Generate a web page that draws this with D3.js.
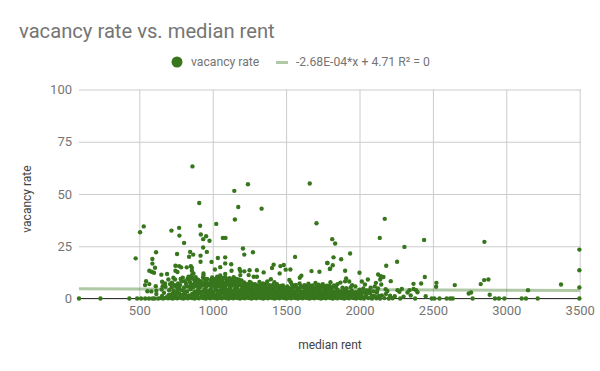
<!DOCTYPE html>
<html>
<head>
<meta charset="utf-8">
<script src="https://cdn.jsdelivr.net/npm/d3@7"></script>
<style>
body { margin: 0; background: #fff; }
text { font-family: Roboto, sans-serif; }
</style>
</head>
<body>
<script>
var width = 600;
var height = 371;

var chartTitle = 'vacancy rate vs. median rent';
var seriesName = 'vacancy rate';
var trendName = '-2.68E-04*x + 4.71 R\u00b2 = 0';
var xTitle = 'median rent';
var yTitle = 'vacancy rate';
var xTicks = [500, 1000, 1500, 2000, 2500, 3000, 3500];
var yTicks = [0, 25, 50, 75, 100];
var trendRents = [89, 3500];
var trendValues = [4.69, 3.77];

// [rent, vacancy], scattered points above the main mass
var highPoints = [
	[862,63.2],[908,45.7],[1147,51.5],[1240,54.7],[1661,55],[1174,43.8],[1333,43],[1151,37.8],[1024,35.7],[1707,36],
	[914,34.8],[530,34.5],[505,31.7],[719,32.5],[771,33.8],[773,30.1],[919,30.6],[955,29.8],[935,28.4],[978,27.6],
	[1069,29],[1087,29],[805,26.6],[935,24.4],[1206,23.9],[846,22.3],[960,22.3],[614,22.1],[1274,22.1],[757,21.3],
	[867,21],[839,20],[1215,21],[917,20.5],[1035,19.4],[1085,19.7],[475,19.2],[589,18.9],[1561,19.9],[917,17.6],
	[992,17.5],[1085,16.8],[1126,16.4],[589,16.7],[1415,16.2],[1782,17],[1484,16],[1461,15.5],[746,15.7],[771,15.5],
	[785,14.9],[851,15.5],[823,14.9],[858,14.7],[607,14.7],[1051,15],[1015,13.9],[1404,14.6],[1183,14.1],[1529,13.9],
	[1798,14.1],[568,13.3],[584,12.8],[600,12.3],[746,13.3],[760,12.7],[858,13.3],[869,12],[1128,13.3],[1188,13.1],
	[1215,13],[1251,13.5],[1301,13.5],[1347,12.5],[1497,13.8],[1673,13.1],[1727,12.8],[650,11.4],[689,11.7],[937,12],
	[937,11],[858,11.2],[1051,11],[1085,11.7],[1188,11.2],[1245,11.2],[1279,10.4],[1301,10.4],[1456,12],[1604,10.9],
	[1593,9.9],[2172,38.1],[2138,29],[2440,28],[2851,27.1],[1814,28.4],[1834,26.3],[3498,23.4],[2306,24.7],[1936,21.5],
	[1823,19.7],[1875,18.8],[2256,17.6],[1780,17],[1818,15.9],[2182,15.7],[1800,14.3],[1902,13.3],[3498,13.5],[2000,12.3],
	[2127,11.5],[2145,10.7],[2163,10.3],[2141,9.1],[1909,9.6],[2057,9.1],[2445,10.3],[2213,8.3],[2524,7.5],[2878,9.1],
	[2849,8.8],[2826,6.9],[3373,6.7],[2368,7],[2420,7.2],[2522,5.6],[2649,6.4],[3498,5.3],[3148,4],[2760,2.9],
	[2744,2.4],[2887,1.8],[2288,4.6],[2259,4],[2272,3.2],[2327,2.9],[2340,4],[2368,4.6],[2386,4],[2395,3],
	[2349,1.4],[2451,1.1]
];

// scattered points in the 500-2300 range, 4 to 11 percent
var midPoints = [
	[546,8.3],[568,6.9],[539,6.4],[612,5.9],[555,3.5],[582,3.4],[616,3.7],[616,2.1],[655,8],[675,7.2],
	[659,5.9],[678,5.6],[652,4.3],[668,2.7],[698,9.1],[732,9.9],[743,9.1],[709,6.9],[703,4],[737,6.4],
	[732,3.7],[760,4],[764,7.2],[796,10],[789,8.2],[778,6.4],[805,5.3],[835,10.4],[840,8.5],[869,9.6],
	[892,8],[942,9.5],[996,10.1],[1012,9.2],[1030,10.4],[1048,9.6],[1066,8.8],[1088,10],[1104,9.1],[1122,8.2],
	[1143,10.2],[1160,9.4],[1178,9.1],[1196,8.6],[1214,7.7],[1232,6.9],[1260,7.6],[1288,6.9],[1318,7.9],[1342,7.2],
	[1372,8.2],[1396,9.2],[1420,7.8],[1438,6.8],[1462,6],[1522,8.9],[1532,7.8],[1566,6.5],[1592,7.2],[1624,6.4],
	[1652,7.1],[1680,6.3],[1700,7.4],[1722,6.6],[1750,6.9],[1778,6.1],[1802,7.8],[1826,6.2],[1850,6.9],[1870,7.6],
	[1902,8.2],[1930,8.1],[1950,6.4],[1972,5.8],[2016,8.1],[2037,6.7],[2076,5.2],[2104,5.8],[2112,7.5],[2126,4.8],
	[2148,6.7],[2178,4.4],[2190,3.6],[1884,5.2],[1910,4.9],[1940,5.4],[2000,4.2],[2026,4.8],[2050,3.9],[720,5.4],
	[752,5.6],[818,7.1],[852,6.9],[878,7.4],[905,6.8],[926,7.7],[958,8],[978,7.2],[1000,8],[1026,7.9],
	[1050,7.8],[1080,7.4],[1112,6.9],[1140,7.4],[1166,7.3],[1190,6.6]
];

// the dense mass, from the base upward
var lowPoints = [
	[89,0],[235,0],[432,0],[485,0],[512,0],[540,0],[566,0],[590,0],[604,0],[628,0],[645,0.2],[662,0],[680,0.3],[696,0.1],
	[712,0.2],[728,0],[742,0.3],[758,0.1],[772,0.4],[786,0.2],[800,0],[816,0.3],[830,0.1],[846,0.4],[860,0.2],[876,0],
	[892,0.3],[906,0.1],[922,0.4],[938,0.2],[952,0],[968,0.3],[984,0.1],[1000,0.4],[1014,0.2],[1030,0],[1046,0.3],[1062,0.1],
	[1078,0.4],[1092,0.2],[1108,0],[1124,0.3],[1140,0.1],[1156,0.4],[1170,0.2],[1186,0],[1202,0.3],[1218,0.1],[1234,0.4],[1248,0.2],
	[1264,0],[1280,0.3],[1296,0.1],[1312,0.4],[1328,0.2],[1344,0],[1360,0.3],[1376,0.1],[1392,0.4],[1406,0.2],[1422,0],[1438,0.3],
	[1454,0.1],[1470,0.4],[1486,0.2],[1502,0],[1518,0.3],[1534,0.1],[1550,0.4],[1564,0.2],[1580,0],[1596,0.3],[1612,0.1],[1628,0.4],
	[1644,0.2],[1660,0],[1676,0.3],[1692,0.1],[1708,0.4],[1722,0.2],[1738,0],[1754,0.3],[1770,0.1],[1786,0.4],[1802,0.2],[1818,0],
	[1834,0.3],[1850,0.1],[1866,0.4],[1880,0.2],[1896,0],[1912,0.3],[1928,0.1],[1944,0.4],[1960,0.2],[1976,0],[1992,0.3],[2008,0.1],
	[2030,0],[2060,0.2],[2085,0],[2115,0.1],[2140,0],[2170,0.2],[2200,0],[2225,0.1],[2277,0],[2379,0],[2492,0],[2510,0],
	[2545,0],[2594,0],[2618,0],[2635,0],[2771,0],[2923,0],[2950,0],[2987,0],[3105,0],[3134,0],[3214,0],[3498,0],

	[702,1.8],[724,2.2],[748,1.6],[771,2.4],[795,1.7],[812,2.3],[838,1.5],[860,2.2],[884,1.9],[903,2.6],[925,1.6],[948,2.3],
	[966,1.8],[990,2.5],[1010,1.6],[1033,2.3],[1052,1.9],[1075,2.6],[1098,1.7],[1117,2.4],[1140,1.8],[1163,2.5],[1184,1.6],[1205,2.3],
	[1226,1.9],[1250,2.6],[1271,1.7],[1292,2.3],[1315,1.6],[1338,2.5],[1358,1.9],[1381,2.3],[1402,1.7],[1425,2.6],[1446,1.6],[1467,2.3],
	[1491,1.9],[1512,2.5],[1535,1.7],[1556,2.3],[1577,1.6],[1600,2.6],[1621,1.9],[1642,2.2],[1665,1.7],[1686,2.5],[1708,1.6],[1731,2.3],
	[1752,1.9],[1775,2.5],[1796,1.7],[1817,2.3],[1840,1.6],[1861,2.6],[1883,1.9],[1906,2.2],[1926,1.7],[1950,2.5],[1972,1.6],[1996,2.2],
	[2020,2.9],[2046,1.4],[2072,2.6],[2098,1.2],[2118,2.8],[2152,1.5],[2180,2.2],[2208,1.3],[2240,1.1],[2300,0.9],

	[760,3.1],[790,3.9],[826,3.4],[850,4.4],[876,3.2],[900,4.1],[918,3.3],[944,4.3],[962,3.5],[986,4.4],[1004,3.2],[1024,4.1],
	[1044,3.6],[1064,4.5],[1086,3.3],[1106,4.2],[1128,3.5],[1150,4.4],[1172,3.2],[1192,4.1],[1214,3.6],[1234,4.5],[1256,3.3],[1278,4.1],
	[1300,3.4],[1322,4.3],[1344,3.2],[1366,4.2],[1388,3.5],[1410,4.4],[1432,3.3],[1454,4.1],[1476,3.4],[1498,4.2],[1520,3.2],[1542,4],
	[1564,3.4],[1586,4.3],[1608,3.2],[1630,4.1],[1652,3.5],[1674,4.2],[1696,3.3],[1718,4.4],[1740,3.2],[1762,4],[1784,3.6],[1806,4.3],
	[1828,3.2],[1850,4.1],[1872,3.4],[1896,3.9],[1922,3.2],[1948,3.7],[1974,3],[2008,3.4],[2034,2.9],[2068,3.8],[2094,3.4],[2120,3.6],

	[840,5.6],[866,5.4],[890,6],[914,5.5],[936,6.2],[956,5.6],[974,6.4],[994,5.7],[1012,6.7],[1034,5.8],[1054,6.5],[1074,5.6],
	[1096,6.6],[1118,5.7],[1136,6.2],[1158,5.6],[1180,6.3],[1202,5.4],[1222,6],[1244,5.5],[1268,6],[1290,5.3],[1312,5.9],[1336,5.4],
	[1358,5.8],[1382,5.3],[1404,5.9],[1428,5.4],[1450,5.1],[1474,5.2],[1496,4.9],[1518,5.1],[1544,5],[1570,5.3],[1594,5.1],[1618,5.4],
	[1642,5],[1668,5.2],[1690,4.9],[1714,5.3],[1736,5],[1760,5.2],[1790,5.1],[1816,5.4],[1842,5]
];

// more of the mass, where the dots overlap into a solid band
var solidPoints = [
	[655,1.2],[690,0.9],[720,1.1],[736,3],[752,0.9],[780,1.2],[806,3.4],[822,0.8],[848,1.1],[870,0.9],[888,3.1],[896,1.2],
	[912,2.7],[930,0.9],[938,3.4],[954,1.1],[958,2.9],[974,1],[978,3.6],[996,1.3],[1006,2.6],[1018,1],[1018,5],[1038,1.2],
	[1040,2.9],[1056,1],[1058,5.2],[1068,3.1],[1082,1.2],[1086,5],[1104,1],[1104,2.9],[1120,5.1],[1126,1.3],[1134,2.9],[1148,1],
	[1150,3.4],[1166,1.2],[1166,5],[1178,2.8],[1194,1],[1200,3.3],[1212,1.2],[1216,5],[1220,2.9],[1238,1],[1242,3.2],[1258,1.2],
	[1260,4.8],[1262,2.8],[1284,1],[1286,3.1],[1302,1.2],[1306,4.9],[1308,2.7],[1328,1],[1330,3.3],[1350,1.2],[1352,4.8],[1352,2.8],
	[1370,1],[1372,3.1],[1396,1.2],[1396,4.9],[1396,2.9],[1416,1],[1416,3.2],[1436,1.2],[1438,2.7],[1442,4.7],[1460,1],[1460,3.2],
	[1482,1.2],[1482,2.8],[1486,4.6],[1504,1],[1506,3.2],[1526,1.2],[1530,2.7],[1532,4.6],[1548,1],[1552,3.1],[1570,1.2],[1572,2.8],
	[1580,4.5],[1592,1],[1596,3.2],[1614,1.2],[1618,2.8],[1630,4.6],[1636,1],[1640,3.1],[1658,1.2],[1660,2.8],[1680,4.5],[1680,1],
	[1684,3.1],[1702,1.2],[1706,2.7],[1726,1],[1726,4.6],[1728,3.2],[1746,1.2],[1750,2.8],[1770,1],[1772,4.5],[1772,3.1],[1792,1.2],
	[1794,2.8],[1812,1],[1816,3.2],[1832,1.2],[1836,2.7],[1856,1],[1858,3.2],[1876,1.2],[1880,2.6],[1902,1],[1904,3.1],[1920,1.2],
	[1942,1],[1944,2.9],[1964,1.2],[1968,2.4],[1988,1],[1992,3.1],[2014,1.3],[2040,0.9],[2056,2.7],[2082,1.1],[2110,0.8],[2134,1.2],

	[722,7.6],[744,6.2],[772,5],[782,9.3],[810,8.3],[824,5.9],[828,9.4],[846,7.7],[856,9.7],[864,6.2],[876,8.6],[884,10.2],
	[900,9],[910,6],[918,8.3],[930,6.7],[934,10],[948,7.1],[950,8.6],[962,9.4],[970,6.4],[986,8.8],[990,7.1],[1004,9.4],
	[1006,6.5],[1020,8.4],[1032,7.2],[1040,9.2],[1044,6.6],[1058,8.4],[1068,7.5],[1072,9.8],[1084,6.8],[1096,8.6],[1102,7.6],[1116,9.7],
	[1124,7.2],[1134,8.6],[1150,6.7],[1154,8],[1170,6.4],[1180,7.8],[1206,6.6],[1224,7],[1244,6.5],[1252,7.9],[1274,6.7],[1302,6.3],
	[1330,6.4],[1354,6.6],[1366,7.2],[1386,6.4],[1410,6.5],[1444,5.7],[1478,6.2],[1508,5.8],[1540,6.6],[1560,5.8],[1600,5.9],[1636,6],
	[1664,6],[1710,5.9],[1744,6],[1766,5.8],[1796,6.1],[1838,6]
];

var pointColor = '#38761d';
var textColor = '#757575';
var darkText = '#424242';

var svg = d3.select('body').append('svg')
	.attr('width', width)
	.attr('height', height);

var xScale = d3.scaleLinear().domain([89, 3509]).range([79, 581]);
var yScale = d3.scaleLinear().domain([0, 100]).range([298.5, 89.5]);

function drawAxes() {
	var bottomAxis = d3.axisBottom(xScale)
		.tickValues(xTicks)
		.tickFormat(d3.format('d'))
		.tickSize(yScale(100) - yScale(0));
	var leftAxis = d3.axisLeft(yScale)
		.tickValues(yTicks)
		.tickSize(xScale(89) - xScale(3509));

	var xAxis = svg.append('g')
		.attr('class', 'xAxis')
		.attr('transform', 'translate(0,' + yScale(0) + ')')
		.call(bottomAxis);
	var yAxis = svg.append('g')
		.attr('class', 'yAxis')
		.attr('transform', 'translate(' + xScale(89) + ',0)')
		.call(leftAxis);

	svg.selectAll('.xAxis path, .yAxis path').remove();
	svg.selectAll('.tick line').attr('stroke', '#cccccc').attr('stroke-width', 1);
	xAxis.selectAll('text')
		.attr('y', 7)
		.attr('dy', '0.71em');
	yAxis.selectAll('text')
		.attr('x', -7)
		.attr('dy', '0.32em');
	svg.selectAll('.tick text')
		.attr('fill', textColor)
		.attr('font-size', 13)
		.attr('font-family', 'Roboto');
}

function drawTexts() {
	svg.append('text')
		.text(chartTitle)
		.attr('x', 19)
		.attr('y', 38)
		.attr('font-size', 20.2)
		.attr('fill', textColor);

	svg.append('text')
		.text(xTitle)
		.attr('x', 330)
		.attr('y', 349)
		.attr('text-anchor', 'middle')
		.attr('font-size', 12)
		.attr('fill', darkText);

	svg.append('text')
		.text(yTitle)
		.attr('transform', 'translate(31,199) rotate(-90)')
		.attr('text-anchor', 'middle')
		.attr('font-size', 12)
		.attr('fill', darkText);
}

function drawLegend() {
	svg.append('circle')
		.attr('cx', 177)
		.attr('cy', 62)
		.attr('r', 5.5)
		.attr('fill', pointColor);
	svg.append('text')
		.text(seriesName)
		.attr('x', 191)
		.attr('y', 66)
		.attr('font-size', 12.2)
		.attr('fill', textColor);
	svg.append('rect')
		.attr('x', 276)
		.attr('y', 61)
		.attr('width', 12)
		.attr('height', 3)
		.attr('fill', pointColor)
		.attr('opacity', 0.4);
	svg.append('text')
		.text(trendName)
		.attr('x', 296)
		.attr('y', 66)
		.attr('font-size', 12.2)
		.attr('fill', textColor);
}

function drawTrend() {
	var trendLine = d3.line()
		.x(function(d) { return xScale(d); })
		.y(function(d, i) { return yScale(trendValues[i]); });

	svg.append('path')
		.attr('d', trendLine(trendRents))
		.attr('fill', 'none')
		.attr('stroke', pointColor)
		.attr('stroke-width', 3)
		.attr('opacity', 0.4);
}

function drawPoints() {
	var allPoints = lowPoints.concat(solidPoints, midPoints, highPoints);
	svg.append('g').selectAll('circle')
		.data(allPoints).enter()
		.append('circle')
		.attr('r', 2.2)
		.attr('cx', function(d) { return xScale(d[0]); })
		.attr('cy', function(d) { return yScale(d[1]); })
		.attr('fill', pointColor);
}

function drawBaseline() {
	svg.append('line')
		.attr('x1', xScale(89))
		.attr('x2', 581)
		.attr('y1', yScale(0))
		.attr('y2', yScale(0))
		.attr('stroke', '#333333');
}

window.onload = function() {
	drawAxes();
	drawTexts();
	drawLegend();
	drawTrend();
	drawBaseline();
	drawPoints();
};
</script>
</body>
</html>
